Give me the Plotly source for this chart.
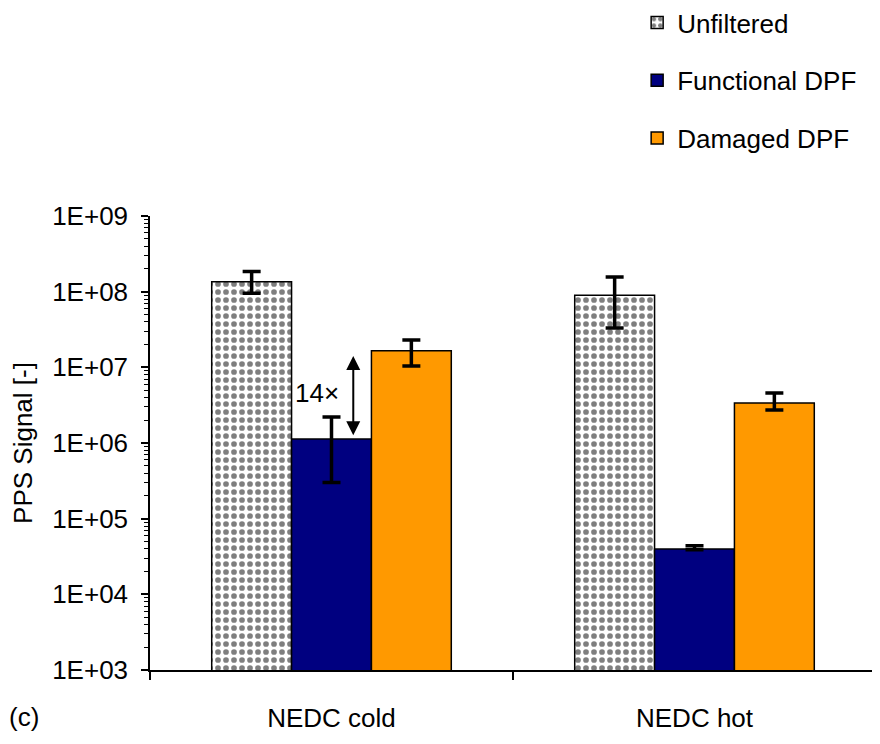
import numpy as np
import plotly.graph_objects as go

categories = ["NEDC cold", "NEDC hot"]
series_names = ["Unfiltered", "Functional DPF", "Damaged DPF"]
unfiltered = [1.355e8, 9.0e7]
unfiltered_up = [4.9e7, 6.6e7]
unfiltered_dn = [4.0e7, 5.7e7]
functional = [1.13e6, 3.97e4]
functional_up = [1.08e6, 4.0e3]
functional_dn = [8.3e5, 1.0e3]
damaged = [1.66e7, 3.38e6]
damaged_up = [6.4e6, 1.2e6]
damaged_dn = [6.2e6, 6.5e5]
y_tick_vals = [1e3, 1e4, 1e5, 1e6, 1e7, 1e8, 1e9]
y_tick_text = ["1E+03", "1E+04", "1E+05", "1E+06", "1E+07", "1E+08", "1E+09"]

FONT = "Liberation Sans"
FS = 26

def err(up, dn):
    return dict(type="data", array=up, arrayminus=dn, symmetric=False,
                color="black", thickness=3.5, width=9)

fig = go.Figure()
fig.add_trace(go.Bar(
    name=series_names[0], x=categories, y=unfiltered, legendgroup="a",
    marker=dict(color="white", line=dict(color="black", width=1.5),
                pattern=dict(shape=".", fgcolor="black", bgcolor="white", size=8, solidity=0.4)),
    error_y=err(unfiltered_up, unfiltered_dn)))
fig.add_trace(go.Bar(
    name=series_names[1], x=categories, y=functional, legendgroup="b",
    marker=dict(color="#000080", line=dict(color="black", width=1.5)),
    error_y=err(functional_up, functional_dn)))
fig.add_trace(go.Bar(
    name=series_names[2], x=categories, y=damaged, legendgroup="c",
    marker=dict(color="#FF9900", line=dict(color="black", width=1.5)),
    error_y=err(damaged_up, damaged_dn)))

# 14x annotation with double arrow between functional and damaged (cold)
arrow_x = 0.06
fig.add_annotation(x=arrow_x, y=np.log10(functional[0]) + 0.05,
                   ax=arrow_x, ay=np.log10(damaged[0]) - 0.05,
                   xref="x", yref="y", axref="x", ayref="y",
                   text="", showarrow=True, arrowhead=2, arrowside="end+start",
                   arrowsize=1.4, arrowwidth=2, arrowcolor="black")
fig.add_annotation(x=-0.041, y=(np.log10(functional[0]) + np.log10(damaged[0])) / 2 + 0.03,
                   xref="x", yref="y", text="14×", showarrow=False,
                   font=dict(size=FS, color="black", family=FONT))
fig.add_annotation(x=-0.1975, y=-0.14, xref="paper", yref="paper", text="(c)",
                   showarrow=False, xanchor="left",
                   font=dict(size=FS, color="black", family=FONT))

fig.update_layout(
    width=880, height=744,
    margin=dict(l=142, r=12, t=208, b=82, autoexpand=False),
    paper_bgcolor="white", plot_bgcolor="white",
    barmode="group", bargap=0.34, bargroupgap=0,
    font=dict(family=FONT, size=FS, color="black"),
    showlegend=True,
    legend=dict(x=0.671, y=1.478, xanchor="left", yanchor="top",
                tracegroupgap=21, font=dict(size=FS, family=FONT, color="black"),
                bgcolor="rgba(0,0,0,0)"),
    xaxis=dict(range=[-0.5, 1.5], showline=True, linecolor="black", linewidth=1.5,
               ticks="outside", tickson="boundaries", ticklen=8, tickwidth=1.5,
               tickcolor="black", showgrid=False, zeroline=False, automargin=False,
               ticklabelstandoff=24, tickfont=dict(size=FS, family=FONT)),
    yaxis=dict(type="log", range=[3, 9], showline=True, linecolor="black", linewidth=1.5,
               tickmode="array", tickvals=y_tick_vals, ticktext=y_tick_text,
               ticks="outside", ticklen=7, tickwidth=1.5, tickcolor="black",
               minor=dict(ticks="outside", ticklen=4, tickcolor="black", tickwidth=1, dtick="D1"),
               showgrid=False, zeroline=False, automargin=False,
               ticklabelstandoff=8,
               tickfont=dict(size=FS, family=FONT),
               title=dict(text="PPS Signal [-]", font=dict(size=FS, family=FONT), standoff=16)),
)

fig.write_html("out.html")
